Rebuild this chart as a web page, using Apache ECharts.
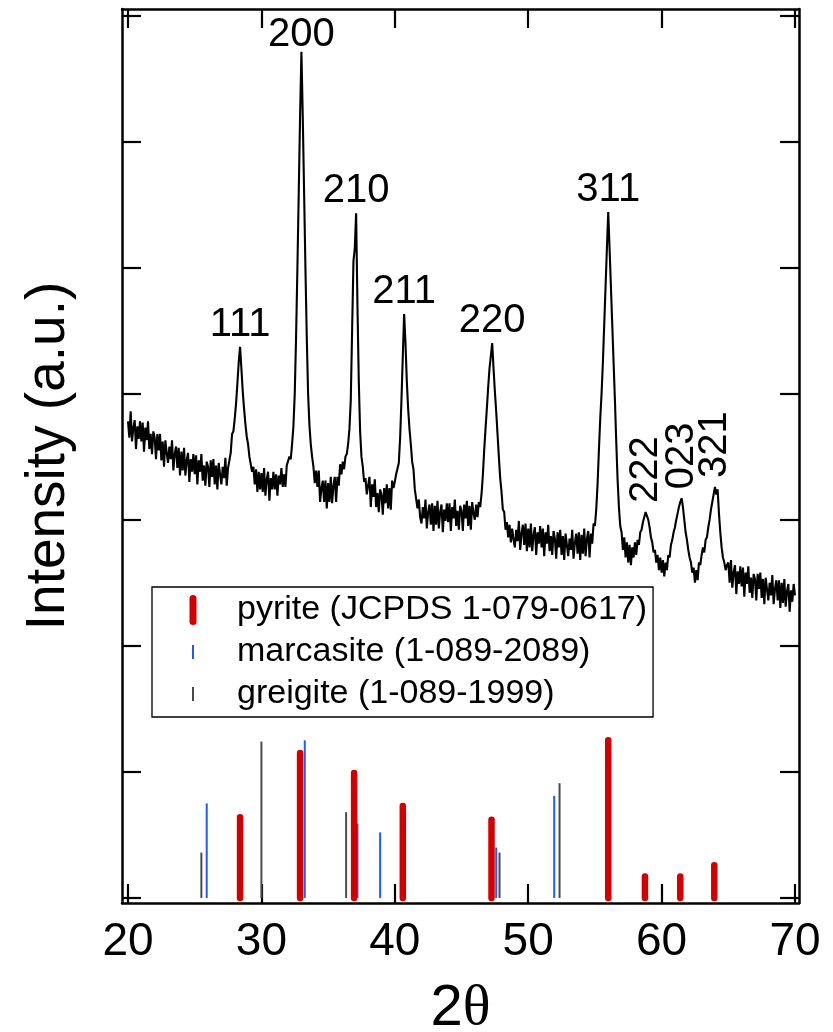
<!DOCTYPE html>
<html>
<head>
<meta charset="utf-8">
<script src="https://cdn.jsdelivr.net/npm/echarts@6/dist/echarts.min.js"></script>
<style>
html,body{margin:0;padding:0;background:#fff;}
#chart{width:833px;height:1032px;}
</style>
</head>
<body>
<div id="chart"></div>
<script>
// ---- data ----
const thetaStartTenths = 200; // 2θ = 20.0, sampled every 0.1°
const intensity = [
3.78,3.65,3.86,3.62,3.73,3.79,3.56,3.74,3.64,3.78,
3.62,3.77,3.54,3.73,3.63,3.78,3.56,3.68,3.52,3.70,
3.65,3.48,3.68,3.55,3.68,3.47,3.62,3.42,3.63,3.53,
3.45,3.58,3.48,3.63,3.39,3.52,3.58,3.41,3.57,3.35,
3.54,3.39,3.57,3.35,3.47,3.53,3.30,3.48,3.38,3.52,
3.36,3.51,3.28,3.47,3.38,3.52,3.31,3.43,3.27,3.46,
3.42,3.26,3.47,3.34,3.48,3.28,3.43,3.24,3.45,3.36,
3.28,3.42,3.33,3.49,3.27,3.41,3.47,3.53,3.68,3.70,
3.80,3.92,4.08,4.25,4.37,4.20,4.02,3.88,3.76,3.66,
3.60,3.50,3.49,3.38,3.42,3.28,3.40,3.22,3.38,3.24,
3.37,3.22,3.41,3.19,3.32,3.38,3.15,3.33,3.24,3.38,
3.24,3.36,3.19,3.35,3.28,3.41,3.26,3.36,3.26,3.43,
3.44,3.50,3.48,3.60,3.74,4.00,4.45,5.00,5.60,6.20,
6.71,6.20,5.60,5.00,4.45,4.00,3.75,3.60,3.50,3.42,
3.29,3.39,3.26,3.39,3.14,3.25,3.31,3.14,3.31,3.09,
3.29,3.14,3.34,3.13,3.27,3.34,3.14,3.34,3.27,3.44,
3.36,3.46,3.40,3.50,3.52,3.60,3.72,3.95,4.50,5.05,
5.15,5.43,4.70,4.10,3.70,3.50,3.42,3.30,3.33,3.20,
3.21,3.34,3.10,3.28,3.18,3.32,3.10,3.21,3.06,3.24,
3.20,3.04,3.25,3.13,3.28,3.09,3.25,3.08,3.31,3.25,
3.30,3.36,3.35,3.45,3.65,3.95,4.30,4.63,4.40,4.10,
3.88,3.72,3.60,3.46,3.40,3.24,3.24,3.09,3.16,3.02,
2.97,3.10,3.01,3.16,2.93,3.06,3.12,2.96,3.13,2.91,
3.11,2.96,3.15,2.93,3.06,3.12,2.90,3.08,2.99,3.13,
2.98,3.13,2.91,3.10,3.01,3.16,2.95,3.07,2.92,3.11,
3.07,2.91,3.12,3.01,3.15,2.95,3.11,2.92,3.14,3.05,
3.00,3.12,3.02,3.14,3.10,3.20,3.35,3.55,3.72,3.88,
4.05,4.20,4.30,4.40,4.20,4.02,3.86,3.68,3.50,3.33,
3.22,3.08,3.06,2.92,2.98,2.86,2.96,2.82,2.93,2.84,
2.78,2.92,2.83,2.99,2.76,2.89,2.96,2.80,2.97,2.75,
2.93,2.78,2.97,2.75,2.88,2.94,2.72,2.90,2.81,2.95,
2.78,2.93,2.71,2.90,2.81,2.96,2.75,2.87,2.72,2.91,
2.85,2.69,2.90,2.78,2.92,2.72,2.87,2.68,2.89,2.80,
2.71,2.85,2.76,2.92,2.69,2.82,2.89,2.73,2.90,2.68,
2.88,2.73,2.93,2.71,2.85,2.91,2.70,2.89,2.81,2.97,
2.95,3.08,3.28,3.55,3.80,4.00,4.25,4.55,4.85,5.15,
5.44,5.15,4.85,4.55,4.25,3.95,3.62,3.32,3.10,2.95,
2.90,2.76,2.86,2.70,2.82,2.66,2.80,2.64,2.78,2.70,
2.82,2.72,2.84,2.80,2.90,2.92,2.98,3.02,3.06,3.05,
3.00,2.94,2.86,2.82,2.74,2.76,2.66,2.72,2.60,2.70,
2.58,2.68,2.55,2.66,2.60,2.72,2.70,2.80,2.84,2.90,
2.94,3.00,3.05,3.10,3.14,3.17,3.10,3.00,2.90,2.84,
2.76,2.70,2.66,2.58,2.62,2.50,2.60,2.52,2.66,2.64,
2.72,2.78,2.74,2.84,2.86,2.94,3.00,3.08,3.14,3.20,
3.26,3.20,3.24,3.05,2.90,2.78,2.70,2.66,2.60,2.64,
2.66,2.50,2.68,2.46,2.58,2.64,2.41,2.59,2.49,2.63,
2.47,2.62,2.39,2.58,2.49,2.63,2.42,2.54,2.38,2.57,
2.53,2.36,2.57,2.45,2.58,2.38,2.53,2.33,2.54,2.45,
2.36,2.50,2.40,2.56,2.33,2.45,2.52,2.36,2.52,2.30,
2.50,2.34,2.53,2.31,2.43,2.49,2.27,2.44,2.35,2.49,
2.40
];

const peakHkl    = ['111','200','210','211','220','311','222','023','321'];
const peakTheta  = [28.4, 33.0, 37.1, 40.7, 47.3, 56.0, 58.85, 61.5, 64.0];
const peakHeight = [4.37, 6.71, 5.43, 4.63, 4.40, 5.44, 3.06, 3.17, 3.26];
const rotatedHkl = ['222','023','321'];

const pyriteName = 'pyrite (JCPDS 1-079-0617)';
const pyriteTheta = [28.4, 32.9, 36.95, 40.6, 47.25, 56.0, 58.75, 61.4, 63.95];
const pyriteHeight = [0.64, 1.15, 0.99, 0.73, 0.62, 1.25, 0.17, 0.17, 0.26];

const marcasiteName = 'marcasite (1-089-2089)';
const marcasiteTheta = [25.9, 33.25, 37.2, 38.9, 47.6, 51.95];
const marcasiteHeight = [0.75, 1.25, 0.59, 0.52, 0.40, 0.81];

const greigiteName = 'greigite (1-089-1999)';
const greigiteTheta = [25.5, 30.0, 36.35, 47.85, 52.35];
const greigiteHeight = [0.36, 1.24, 0.68, 0.36, 0.91];

const xTicks = [20, 30, 40, 50, 60, 70];
const yTicks = [0, 1, 2, 3, 4, 5, 6, 7];

// ---- build ----
const pattern = intensity.map((v, i) => [(thetaStartTenths + i) / 10, v]);
const labelData = peakHkl.map((h, i) => {
  const rot = rotatedHkl.indexOf(h) >= 0;
  const item = { name: h, value: [peakTheta[i], peakHeight[i]] };
  if (rot) {
    item.label = { rotate: 90, align: 'left', verticalAlign: 'middle', distance: 9 };
  } else if (h === '200') {
    item.label = { distance: -3 };
  }
  return item;
});
const zipPts = (xs, ys) => xs.map((x, i) => [x, ys[i]]);

function stickRenderer(width, cap) {
  return function (params, api) {
    const x = api.value(0), h = api.value(1);
    const p0 = api.coord([x, 0]);
    const p1 = api.coord([x, h]);
    return {
      type: 'line',
      shape: { x1: p0[0], y1: p0[1], x2: p1[0], y2: p1[1] },
      style: { stroke: api.visual('color'), lineWidth: width, lineCap: cap }
    };
  };
}

const FONT = 'Liberation Sans, Arial, sans-serif';
const axisLineStyle = { color: '#000', width: 2.5 };
const tickCommon = { show: true, inside: true, length: 19, lineStyle: { color: '#000', width: 2.2 } };

function corner(a, b) { return 'M' + a + ',' + b + 'l0.05,0l-0.05,0.05z'; }
const box = corner(0, 0) + corner(77.95, 33.95);
const iconPyrite = 'path://' + box + 'M35.5,5.5Q35.5,2,39,2Q42.5,2,42.5,5.5L42.5,28.5Q42.5,32,39,32Q35.5,32,35.5,28.5Z';
const iconThin = 'path://' + box + 'M38,10L40,10L40,24L38,24Z';

const chart = echarts.init(document.getElementById('chart'), null, { renderer: 'canvas' });
chart.setOption({
  animation: false,
  backgroundColor: '#fff',
  grid: { left: 122, right: 34, top: 9, bottom: 129, containLabel: false, outerBoundsMode: 'none' },
  legend: {
    show: true,
    selectedMode: false,
    orient: 'vertical',
    left: 152, top: 587,
    padding: [6, 6, 6, 2],
    itemGap: 8,
    itemWidth: 78, itemHeight: 34,
    borderColor: '#000', borderWidth: 1.3,
    backgroundColor: '#fff',
    textStyle: { fontSize: 34, fontFamily: FONT, color: '#000' },
    data: [
      { name: pyriteName, icon: iconPyrite },
      { name: marcasiteName, icon: iconThin },
      { name: greigiteName, icon: iconThin }
    ]
  },
  xAxis: [
    {
      type: 'value', position: 'bottom', min: 19.55, max: 70.3,
      axisLine: { onZero: false, lineStyle: axisLineStyle },
      axisTick: Object.assign({ customValues: xTicks }, tickCommon),
      axisLabel: { customValues: xTicks, fontSize: 46, fontFamily: FONT, color: '#000', margin: 16 },
      splitLine: { show: false },
      name: '{a|2}{b|θ}', nameLocation: 'middle', nameGap: 77,
      nameTextStyle: {
        rich: {
          a: { fontSize: 58, fontFamily: FONT, color: '#000' },
          b: { fontSize: 58, fontFamily: 'Liberation Serif, Times New Roman, serif', color: '#000' }
        }
      }
    },
    {
      type: 'value', position: 'top', min: 19.55, max: 70.3,
      axisLine: { onZero: false, lineStyle: axisLineStyle },
      axisTick: Object.assign({ customValues: xTicks }, tickCommon),
      axisLabel: { show: false },
      splitLine: { show: false }
    }
  ],
  yAxis: [
    {
      type: 'value', position: 'left', min: -0.04, max: 7.05,
      axisLine: { show: true, onZero: false, lineStyle: axisLineStyle },
      axisTick: Object.assign({ customValues: yTicks }, tickCommon),
      axisLabel: { show: false },
      splitLine: { show: false },
      name: 'Intensity (a.u.)', nameLocation: 'middle', nameGap: 46,
      nameTextStyle: { fontSize: 55, fontFamily: FONT, color: '#000' }
    },
    {
      type: 'value', position: 'right', min: -0.04, max: 7.05,
      axisLine: { show: true, onZero: false, lineStyle: axisLineStyle },
      axisTick: Object.assign({ customValues: yTicks }, tickCommon),
      axisLabel: { show: false },
      splitLine: { show: false }
    }
  ],
  series: [
    {
      name: 'pattern', type: 'line', data: pattern,
      xAxisIndex: 0, yAxisIndex: 0,
      showSymbol: false, symbol: 'none', silent: true,
      lineStyle: { color: '#000', width: 2.1 },
      z: 3
    },
    {
      name: 'hkl', type: 'scatter', data: labelData,
      symbolSize: 0, silent: true,
      itemStyle: { opacity: 1 },
      label: {
        show: true, position: 'top', distance: 2,
        formatter: '{b}', fontSize: 40, fontFamily: FONT, color: '#000', opacity: 1
      },
      z: 4
    },
    {
      name: greigiteName, type: 'custom', data: zipPts(greigiteTheta, greigiteHeight),
      itemStyle: { color: '#4a4a4a' }, renderItem: stickRenderer(2, 'butt'), z: 2
    },
    {
      name: marcasiteName, type: 'custom', data: zipPts(marcasiteTheta, marcasiteHeight),
      itemStyle: { color: '#1e5aff' }, renderItem: stickRenderer(2, 'butt'), z: 2
    },
    {
      name: pyriteName, type: 'custom', data: zipPts(pyriteTheta, pyriteHeight),
      itemStyle: { color: '#d40000' }, renderItem: stickRenderer(6.5, 'round'), z: 2
    }
  ]
});
</script>
</body>
</html>
